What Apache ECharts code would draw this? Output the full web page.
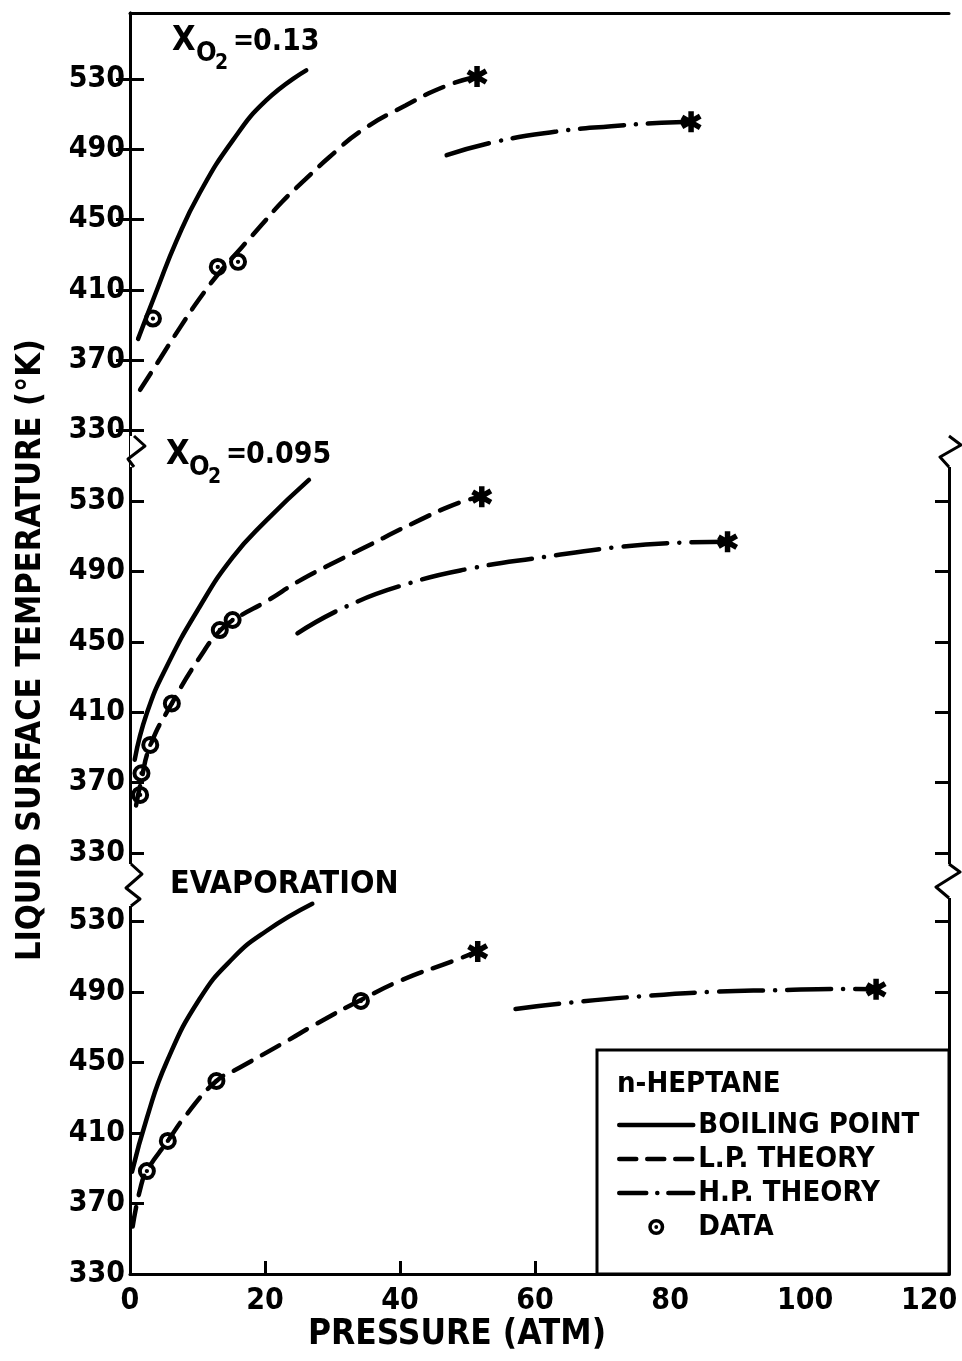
<!DOCTYPE html>
<html>
<head>
<meta charset="utf-8">
<script src="https://cdn.jsdelivr.net/npm/echarts@6/dist/echarts.min.js"></script>
<style>
html,body{margin:0;padding:0;background:#fff;}
#c{width:962px;height:1361px;}
</style>
</head>
<body>
<div id="c"></div>
<script>
// ---------- data (pressure atm, liquid surface temperature K) ----------
const xTicks = [0, 20, 40, 60, 80, 100, 120];
const xTickMarks = [20, 40, 60, 80, 100];
const yTicks = [330, 370, 410, 450, 490, 530];
const legendNames = ['BOILING POINT', 'L.P. THEORY', 'H.P. THEORY', 'DATA'];

// panel 1 : X_O2 = 0.13
const boilTop = [[1.2,382],[4,410],[6.9,438],[10.3,465],[15.2,495],[20.2,518],[26.1,535]];
const lpTop = [[1.5,353],[4.5,371],[7.5,389],[10.5,406],[13.5,421],[16.5,434],[19.5,447],[22.5,460],[26,473],[29.5,485.5],[34.4,501],[40.8,515],[46.7,526],[51.4,531.5]];
const hpTop = [[46.9,486.7],[54.1,494.3],[62.9,500],[71.3,503.2],[78.7,505.1],[83.1,505.7]];
const dataTop = [[3.4,393.6],[13,423],[16,425.9]];

// panel 2 : X_O2 = 0.095
const boilMid = [[0.7,383],[2.5,409.5],[5.4,435.7],[10.3,469.8],[15.2,498],[20.2,519],[26.5,542]];
const lpMid = [[0.9,357],[1.6,370],[3,391],[6.2,415],[10.3,441],[13.5,457],[16,464],[20.2,473],[25,484.5],[29.5,493.6],[33.9,502],[42.8,519],[48.7,529],[52.1,532.5]];
const hpMid = [[24.8,454.8],[32,470],[41.3,483.2],[50.6,491.8],[61,498],[72,503.7],[81.1,506.3],[88.5,506.9]];
const dataMid = [[1.5,363],[1.7,375.3],[3,391.4],[6.2,415],[13.3,456.7],[15.2,462.4]];

// panel 3 : evaporation
const boilBot = [[0.3,388],[2.5,418.5],[5.4,450],[10.3,486],[15.2,509],[20.2,524.6],[27,540]];
const lpBot = [[0.4,357],[1.5,378],[2.5,388.5],[5.6,405.5],[8.4,420.6],[12.8,439.5],[16.2,447],[20.2,455.6],[23.6,463],[27.5,471.7],[34.2,485.5],[40.4,497],[47.8,507.5],[51.5,513]];
const hpBot = [[57.1,480.4],[64.8,483.8],[76.1,487.7],[85.8,490],[95.4,491],[107.4,491.7],[110.5,491.5]];
const dataBot = [[2.5,388.4],[5.6,405.5],[12.8,439.5],[34.2,484.9]];

const xRange = [0, 121.3];
const yRanges = [[317, 567.7], [313.5, 557.3], [330, 552.4]];

// ---------- fonts ----------
function hasFont(name) {
  const ctx = document.createElement('canvas').getContext('2d');
  const s = 'BOILING POINT 0123456789';
  let diff = false;
  ['monospace', 'serif'].forEach(fb => {
    ctx.font = '40px ' + fb;
    const a = ctx.measureText(s).width;
    ctx.font = "40px '" + name + "', " + fb;
    const b = ctx.measureText(s).width;
    if (Math.abs(a - b) > 0.5) diff = true;
  });
  return diff;
}
const COND = hasFont('DejaVu Sans Condensed');
const FONT = COND ? "'DejaVu Sans Condensed', 'DejaVu Sans', sans-serif" : "'DejaVu Sans', sans-serif";
const WEIGHT = COND ? 'bold' : 'normal';
const INK = '#000';

// ---------- layout / styles ----------
const grids = [
  {left: 130, top: 13, width: 819, height: 440, outerBoundsMode: 'none', containLabel: false},
  {left: 130, top: 453, width: 819, height: 429, outerBoundsMode: 'none', containLabel: false},
  {left: 130, top: 882, width: 819, height: 392, outerBoundsMode: 'none', containLabel: false}
];
const STAR = 'path://M37,0L63,0L63,100L37,100Z M86.8,11.5L99.8,34L13.2,84L0.2,61.5Z M0.2,38.5L13.2,16L99.8,66L86.8,88.5Z';
const RING = 'path://M50,0A50,50 0 1,1 50,100A50,50 0 1,1 50,0Z M50,22A28,28 0 1,0 50,78A28,28 0 1,0 50,22Z M50,38A12,12 0 1,1 50,62A12,12 0 1,1 50,38Z';
const LP_DASH = [20, 12];
const HP_DASH = [44, 12, 0.1, 12];

const panels = [
  {boil: boilTop, lp: lpTop, hp: hpTop, data: dataTop},
  {boil: boilMid, lp: lpMid, hp: hpMid, data: dataMid},
  {boil: boilBot, lp: lpBot, hp: hpBot, data: dataBot}
];

const axisLineStyle = {color: INK, width: 3};
const labelStyle = {color: INK, fontFamily: FONT, fontWeight: WEIGHT, fontSize: 30};

const xAxes = grids.map((g, i) => ({
  gridIndex: i, type: 'value', min: xRange[0], max: xRange[1], position: 'bottom',
  show: i === 2,
  axisLine: {show: true, lineStyle: axisLineStyle},
  axisTick: {show: true, inside: true, length: 13, lineStyle: axisLineStyle, customValues: xTickMarks},
  axisLabel: Object.assign({show: true, customValues: xTicks, margin: 12,
    formatter: v => v === xTicks[xTicks.length - 1] ? '{e|' + v + '}' : String(v),
    rich: {e: Object.assign({padding: [0, 22, 0, 0]}, labelStyle)}}, labelStyle),
  splitLine: {show: false}
}));
xAxes.push({
  gridIndex: 0, type: 'value', min: xRange[0], max: xRange[1], position: 'top',
  axisLine: {show: true, lineStyle: axisLineStyle},
  axisTick: {show: false}, axisLabel: {show: false}, splitLine: {show: false}
});

const yAxes = [];
grids.forEach((g, i) => {
  yAxes.push({
    gridIndex: i, type: 'value', min: yRanges[i][0], max: yRanges[i][1], position: 'left',
    axisLine: {show: true, lineStyle: axisLineStyle},
    axisTick: {show: true, inside: true, length: 14, lineStyle: axisLineStyle, customValues: yTicks},
    axisLabel: Object.assign({show: true, customValues: yTicks, margin: 5}, labelStyle),
    splitLine: {show: false}
  });
  yAxes.push({
    gridIndex: i, type: 'value', min: yRanges[i][0], max: yRanges[i][1], position: 'right',
    axisLine: {show: true, lineStyle: axisLineStyle},
    axisTick: {show: true, inside: true, length: 14, lineStyle: axisLineStyle, customValues: yTicks},
    axisLabel: {show: false},
    splitLine: {show: false}
  });
});

const series = [];
panels.forEach((p, i) => {
  const base = {type: 'line', xAxisIndex: i, yAxisIndex: 2 * i, smooth: 0.5, symbol: 'none',
    showSymbol: false, itemStyle: {color: INK}, z: 3};
  series.push(Object.assign({}, base, {name: legendNames[0], data: p.boil,
    lineStyle: {color: INK, width: 4.5, cap: 'round', type: 'solid'}}));
  series.push(Object.assign({}, base, {name: legendNames[1], data: p.lp,
    lineStyle: {color: INK, width: 4.5, cap: 'round', type: LP_DASH}}));
  series.push(Object.assign({}, base, {name: legendNames[2], data: p.hp,
    lineStyle: {color: INK, width: 4.5, cap: 'round', type: HP_DASH}}));
  series.push({type: 'scatter', name: legendNames[3], xAxisIndex: i, yAxisIndex: 2 * i,
    data: p.data, symbol: RING, symbolSize: 18, itemStyle: {color: INK, opacity: 1}, z: 5});
  series.push({type: 'scatter', name: 'END', xAxisIndex: i, yAxisIndex: 2 * i,
    data: [p.lp[p.lp.length - 1], p.hp[p.hp.length - 1]], symbol: STAR, symbolSize: 21,
    itemStyle: {color: INK, opacity: 1}, z: 5});
});

function txt(x, y, text, size, extra) {
  return Object.assign({type: 'text', x: x, y: y, z: 10,
    style: {text: text, fill: INK, font: WEIGHT + ' ' + size + 'px ' + FONT, textAlign: 'left', textVerticalAlign: 'middle'}}, extra || {});
}
function brk(points) {
  return [
    {type: 'polyline', z: 8, shape: {points: [points[0], points[points.length - 1]]}, style: {stroke: '#fff', lineWidth: 8, fill: null}},
    {type: 'polyline', z: 9, shape: {points: points}, style: {stroke: INK, lineWidth: 3, fill: null, lineJoin: 'round'}}
  ];
}

const graphic = [
  {type: 'text', x: 31, y: 650, rotation: Math.PI / 2, z: 10,
    style: {text: 'LIQUID SURFACE TEMPERATURE (°K)', fill: INK, font: WEIGHT + ' 34px ' + FONT, textAlign: 'center', textVerticalAlign: 'middle'}},
  {type: 'text', x: 457, y: 1335, z: 10,
    style: {text: 'PRESSURE (ATM)', fill: INK, font: WEIGHT + ' 35px ' + FONT, textAlign: 'center', textVerticalAlign: 'middle'}},
  txt(172, 41, 'X', 34), txt(196, 54, 'O', 27), txt(215, 64, '2', 21), txt(233, 42, '=', 28), txt(253, 42, '0.13', 30),
  txt(166, 455, 'X', 34), txt(189, 468, 'O', 27), txt(208, 478, '2', 21), txt(226, 455, '=', 28), txt(246, 455, '0.095', 30),
  txt(170, 885, 'EVAPORATION', 32),
  {type: 'rect', z: 6, shape: {x: 597, y: 1050, width: 352, height: 224}, style: {fill: '#fff', stroke: INK, lineWidth: 3}},
  txt(617, 1084, 'n-HEPTANE', 29)
].concat(
  brk([[134, 436], [145, 446], [128, 459], [134, 467]]),
  brk([[949, 436], [961, 445], [940, 457], [949, 467]]),
  brk([[131, 864], [142, 874], [126, 888], [140, 899], [131, 906]]),
  brk([[949, 864], [960, 872], [936, 887], [949, 898]])
);

const legendData = [
  {name: legendNames[0], itemStyle: {opacity: 0}},
  {name: legendNames[1], itemStyle: {opacity: 0}, lineStyle: {type: [17, 11]}},
  {name: legendNames[2], itemStyle: {opacity: 0}, lineStyle: {type: [27, 11, 0.1, 11]}},
  {name: legendNames[3], itemStyle: {opacity: 1}}
];

const option = {
  animation: false,
  backgroundColor: '#fff',
  grid: grids,
  xAxis: xAxes,
  yAxis: yAxes,
  legend: {
    data: legendData,
    orient: 'vertical', left: 612, top: 1103, z: 12,
    itemWidth: 74, itemHeight: 16, itemGap: 0,
    textStyle: {fontFamily: FONT, fontWeight: WEIGHT, fontSize: 29, color: INK, lineHeight: 34},
    lineStyle: {width: 4.5}
  },
  series: series,
  graphic: graphic
};

const chart = echarts.init(document.getElementById('c'));
chart.setOption(option);
</script>
</body>
</html>
